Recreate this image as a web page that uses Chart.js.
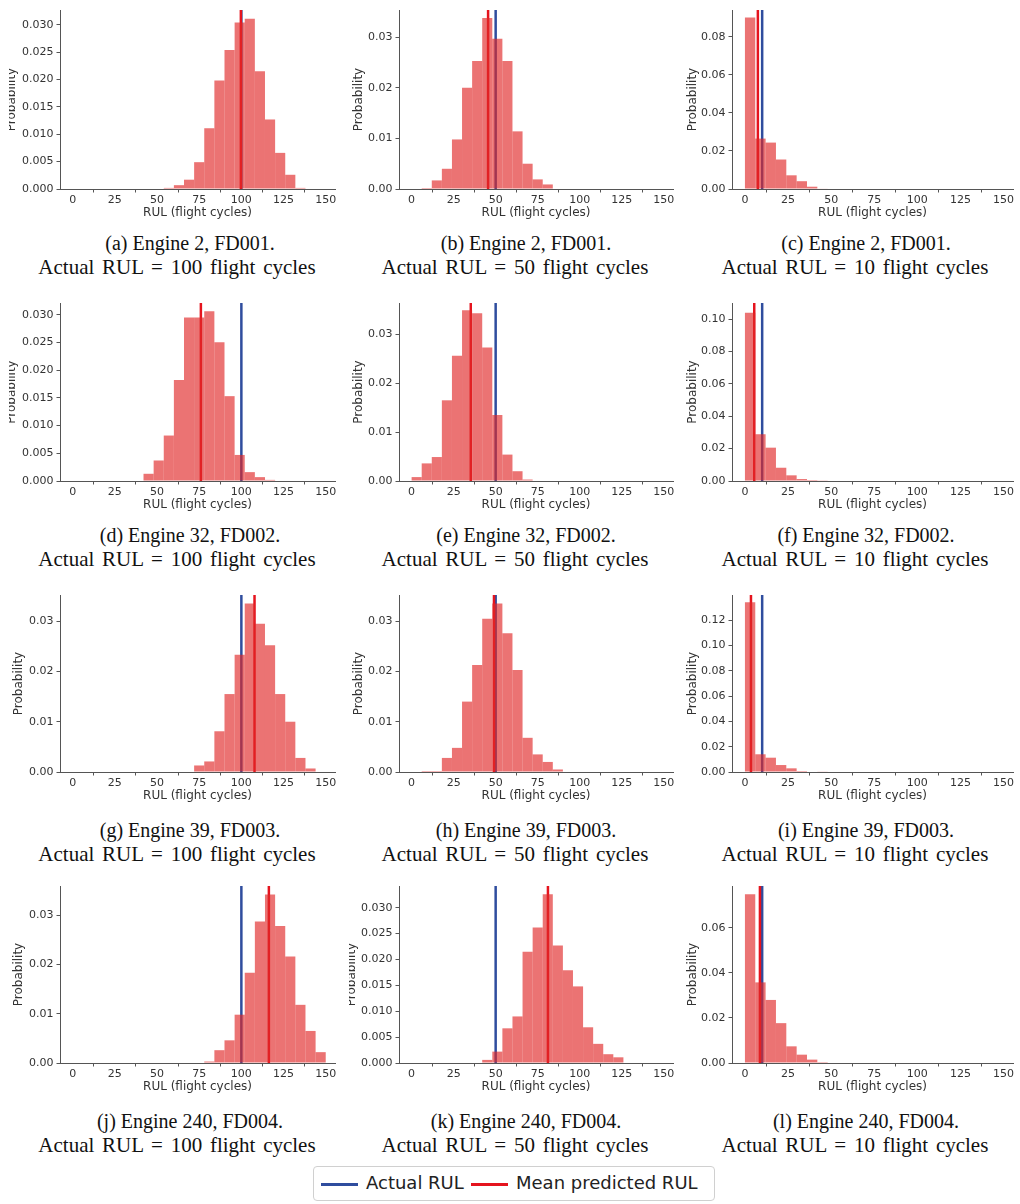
<!DOCTYPE html>
<html>
<head>
<meta charset="utf-8">
<script src="https://cdn.jsdelivr.net/npm/chart.js@4.4.0/dist/chart.umd.min.js"></script>
<style>
  body { margin: 0; background: #fff; width: 1020px; height: 1204px; position: relative; overflow: hidden; }
  canvas { position: absolute; }
  .cap { position: absolute; width: 400px; margin-left: -200px; text-align: center; white-space: nowrap;
         font-family: "Liberation Serif", "DejaVu Serif", serif; font-size: 20px; line-height: 24px; color: #111; }
  .cap2 { font-size: 21px; word-spacing: 2.5px; }
  #legend { position: absolute; left: 313px; top: 1166px; width: 400px; height: 33px;
            border: 1px solid #d0d0d0; border-radius: 4px; }
  .lg-line { position: absolute; top: 16px; width: 37px; height: 3px; }
  .lg-text { position: absolute; top: 6px; font-family: "DejaVu Sans", sans-serif; font-size: 18px; line-height: 20px; color: #222; }
</style>
</head>
<body>
<div id="legend">
  <div class="lg-line" style="left:7px; background:#2f4d9e;"></div>
  <div class="lg-text" style="left:52px;">Actual RUL</div>
  <div class="lg-line" style="left:157px; background:#e5141e;"></div>
  <div class="lg-text" style="left:202px;">Mean predicted RUL</div>
</div>
<script>
// histogram bins are 6 flight cycles wide
var binWidth = 6;
var xTicks = [0, 25, 50, 75, 100, 125, 150];
var xMin = -7.5, xMax = 155.5;

// probability per bin
var probA = [0.0002, 0.0007, 0.0017, 0.0049, 0.0111, 0.0198, 0.0254, 0.0304, 0.0311, 0.0215, 0.0127, 0.0066, 0.0026, 0.0002];
var probB = [0.0002, 0.0017, 0.0040, 0.0098, 0.0200, 0.0253, 0.0338, 0.0297, 0.0253, 0.0114, 0.0050, 0.0019, 0.0009];
var probC = [0.0901, 0.0265, 0.0244, 0.0155, 0.0072, 0.0041, 0.0012, 0.0003];
var probD = [0.0013, 0.0037, 0.0082, 0.0182, 0.0295, 0.0295, 0.0306, 0.0250, 0.0153, 0.0047, 0.0016, 0.0007, 0.0002];
var probE = [0.0008, 0.0036, 0.0049, 0.0165, 0.0256, 0.0349, 0.0343, 0.0273, 0.0135, 0.0054, 0.0020, 0.0003];
var probF = [0.1040, 0.0289, 0.0206, 0.0082, 0.0035, 0.0012, 0.0006, 0.0002];
var probG = [0.0013, 0.0021, 0.0081, 0.0155, 0.0233, 0.0335, 0.0295, 0.0252, 0.0155, 0.0100, 0.0028, 0.0007];
var probH = [0.0001, 0.0002, 0.0002, 0.0028, 0.0048, 0.0140, 0.0213, 0.0305, 0.0335, 0.0276, 0.0203, 0.0068, 0.0035, 0.0020, 0.0005];
var probI = [0.1340, 0.0140, 0.0113, 0.0055, 0.0029, 0.0008, 0.0004, 0.0003];
var probJ = [0.0003, 0.0026, 0.0046, 0.0098, 0.0183, 0.0287, 0.0342, 0.0278, 0.0216, 0.0118, 0.0065, 0.0022];
var probK = [0.0006, 0.0022, 0.0067, 0.0090, 0.0215, 0.0262, 0.0326, 0.0227, 0.0179, 0.0148, 0.0069, 0.0037, 0.0017, 0.0011];
var probL = [0.0749, 0.0358, 0.0280, 0.0177, 0.0074, 0.0037, 0.0015, 0.0004];

var panelProbs = [probA, probB, probC, probD, probE, probF, probG, probH, probI, probJ, probK, probL];
var binStart = [54, 6, 0, 42, 0, 0, 72, 0, 0, 78, 42, 0];

var actualRul = [100, 50, 10, 100, 50, 10, 100, 50, 10, 100, 50, 10];
var meanRul = [99.7, 45.5, 7.5, 76, 35.2, 5.4, 107.8, 49, 3.5, 116.3, 81.1, 8.7];
var yMax = [0.0327, 0.0354, 0.0941, 0.0321, 0.0364, 0.110, 0.0352, 0.0352, 0.1398, 0.0359, 0.0342, 0.0786];

var ticks5 = ['0.000', '0.005', '0.010', '0.015', '0.020', '0.025', '0.030'];
var ticks1 = ['0.00', '0.01', '0.02', '0.03'];
var ticks06 = ['0.00', '0.02', '0.04', '0.06'];
var ticks08 = ['0.00', '0.02', '0.04', '0.06', '0.08'];
var ticks10 = ['0.00', '0.02', '0.04', '0.06', '0.08', '0.10'];
var ticks12 = ['0.00', '0.02', '0.04', '0.06', '0.08', '0.10', '0.12'];
var yTickLabels = [ticks5, ticks1, ticks08, ticks5, ticks1, ticks10, ticks1, ticks1, ticks12, ticks1, ticks5, ticks06];

var letters = ['a', 'b', 'c', 'd', 'e', 'f', 'g', 'h', 'i', 'j', 'k', 'l'];
var engines = ['Engine 2, FD001.', 'Engine 32, FD002.', 'Engine 39, FD003.', 'Engine 240, FD004.'];
var rulText = [100, 50, 10];

// layout of the 4x3 grid
var rowTop = [10, 303, 595, 886];
var rowBottom = [189, 481, 772, 1063];
var capY = [231, 523, 818, 1109];
var spineX = [60, 59, 52];
var rightEnd = [335, 333, 333];
var cap1X = [190, 526, 866];
var cap2X = [177, 515, 855];

var blue = '#2f4d9e';
var red = '#e5141e';
var barColor = 'rgba(224, 40, 40, 0.65)';
var axisFont = { family: 'DejaVu Sans', size: 11 };
var titleFont = { family: 'DejaVu Sans', size: 12 };

function makePanel(i) {
    var r = Math.floor(i / 3), c = i % 3;
    var labels = yTickLabels[i];
    var threeDec = labels[0].length === 5;
    var titleCx = threeDec ? 12 : (c === 2 ? 12.5 : 18.5);
    var padLeft = titleCx - 7.2;
    var yWidth = spineX[c] - padLeft;

    var canvas = document.createElement('canvas');
    var top = rowTop[r] - 10;
    var h = rowBottom[r] - top + 33;
    canvas.width = 340;
    canvas.height = h;
    canvas.style.left = (c * 340) + 'px';
    canvas.style.top = top + 'px';
    canvas.style.width = '340px';
    canvas.style.height = h + 'px';
    // the reference crops the y title of the wide-label panels
    if (threeDec) canvas.style.clipPath = 'inset(0 0 0 9px)';
    document.body.appendChild(canvas);

    var bars = panelProbs[i].map(function (p, k) {
        return { x: binStart[i] + binWidth * (k + 0.5), y: p };
    });

    new Chart(canvas, {
        type: 'bar',
        data: {
            datasets: [{
                type: 'bar',
                data: bars,
                backgroundColor: barColor,
                borderWidth: 0,
                barPercentage: 1,
                categoryPercentage: 1,
                inflateAmount: 0,
                order: 0
            }, {
                type: 'line',
                data: [{ x: actualRul[i], y: 0 }, { x: actualRul[i], y: yMax[i] }],
                borderColor: blue,
                borderWidth: 2.5,
                pointRadius: 0,
                order: 2
            }, {
                type: 'line',
                data: [{ x: meanRul[i], y: 0 }, { x: meanRul[i], y: yMax[i] }],
                borderColor: red,
                borderWidth: 2.5,
                pointRadius: 0,
                order: 1
            }]
        },
        options: {
            responsive: false,
            animation: false,
            layout: { padding: { left: padLeft, right: 340 - rightEnd[c], top: 10, bottom: 0 } },
            plugins: { legend: { display: false }, tooltip: { enabled: false } },
            scales: {
                x: {
                    type: 'linear',
                    min: xMin,
                    max: xMax,
                    offset: false,
                    afterBuildTicks: function (s) { s.ticks = xTicks.map(function (v) { return { value: v }; }); },
                    afterFit: function (s) { s.height = 33; },
                    grid: { display: true, drawOnChartArea: false, drawTicks: true, tickLength: 3.5, color: '#555' },
                    border: { display: true, color: '#555', width: 1 },
                    ticks: { color: '#333', font: axisFont, padding: 1, maxRotation: 0, autoSkip: false },
                    title: { display: true, text: 'RUL (flight cycles)', color: '#333', font: titleFont, padding: { top: 0, bottom: 2.4 } }
                },
                y: {
                    min: 0,
                    max: yMax[i],
                    afterBuildTicks: function (s) { s.ticks = labels.map(function (t) { return { value: Number(t) }; }); },
                    afterFit: function (s) { s.width = yWidth; },
                    grid: { display: true, drawOnChartArea: false, drawTicks: true, tickLength: 3.5, color: '#555' },
                    border: { display: true, color: '#555', width: 1 },
                    ticks: { color: '#333', font: axisFont, padding: 3, autoSkip: false, callback: function (v, idx) { return labels[idx]; } },
                    title: { display: true, text: 'Probability', color: '#333', font: titleFont, padding: 0 }
                }
            }
        }
    });

    var cap1 = document.createElement('div');
    cap1.className = 'cap';
    cap1.style.left = cap1X[c] + 'px';
    cap1.style.top = capY[r] + 'px';
    cap1.textContent = '(' + letters[i] + ') ' + engines[r];
    document.body.appendChild(cap1);

    var cap2 = document.createElement('div');
    cap2.className = 'cap cap2';
    cap2.style.left = cap2X[c] + 'px';
    cap2.style.top = (capY[r] + 24) + 'px';
    cap2.textContent = 'Actual RUL = ' + rulText[c] + ' flight cycles';
    document.body.appendChild(cap2);
}

for (var i = 0; i < 12; i++) {
    makePanel(i);
}
</script>
</body>
</html>
